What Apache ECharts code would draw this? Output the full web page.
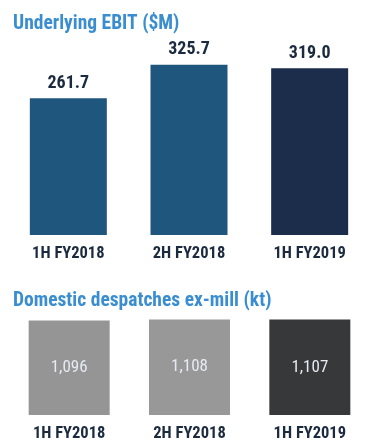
<!DOCTYPE html>
<html><head><meta charset="utf-8">
<script src="https://cdn.jsdelivr.net/npm/echarts@6/dist/echarts.min.js"></script>
<style>html,body{margin:0;padding:0;background:#fff}#c{width:370px;height:446px}</style>
</head><body><div id="c"></div>
<script>
const categories = ['1H FY2018', '2H FY2018', '1H FY2019'];
const ebitValues = [261.7, 325.7, 319.0];
const despatchValues = [1096, 1108, 1107];
const ebitTitle = 'Underlying EBIT ($M)';
const despatchTitle = 'Domestic despatches ex-mill (kt)';

const FONT = 'Roboto, sans-serif';
const STRETCH = 'condensed';
const ebitColors = ['#1f567e', '#1f567e', '#1b2d4b'];
const despColors = ['#959595', '#989898', '#363839'];

const chart = echarts.init(document.getElementById('c'));
chart.setOption({
  animation: false,
  title: [
    {text: ebitTitle, left: 8, top: 9, textStyle: {fontFamily: FONT, fontStyle: STRETCH, fontWeight: 'bold', fontSize: 19.5, color: '#3a8ed0'}},
    {text: despatchTitle, left: 8, top: 286, textStyle: {fontFamily: FONT, fontStyle: STRETCH, fontWeight: 'bold', fontSize: 19.5, color: '#3a8ed0'}}
  ],
  grid: [
    {left: 8, right: -3, top: 26, bottom: 211},
    {left: 9, right: -2, top: 311.5, bottom: 31}
  ],
  xAxis: [0, 1].map(i => ({
    type: 'category', gridIndex: i, data: categories,
    axisLine: {show: false}, axisTick: {show: false},
    axisLabel: {interval: 0, margin: 10, fontFamily: FONT, fontStyle: STRETCH, fontWeight: 'bold', fontSize: 16.5, color: '#1b2a3f'}
  })),
  yAxis: [
    {type: 'value', gridIndex: 0, min: 0, max: 400, show: false},
    {type: 'value', gridIndex: 1, min: 0, max: 1200, show: false}
  ],
  series: [
    {
      type: 'bar', xAxisIndex: 0, yAxisIndex: 0, barWidth: 77,
      data: ebitValues.map((v, i) => ({value: v, itemStyle: {color: ebitColors[i]}})),
      label: {show: true, position: 'top', distance: 6, formatter: p => p.value.toFixed(1),
        fontFamily: FONT, fontStyle: STRETCH, fontWeight: 'bold', fontSize: 18, color: '#1b2a3f'}
    },
    {
      type: 'bar', xAxisIndex: 1, yAxisIndex: 1, barWidth: 81,
      data: despatchValues.map((v, i) => ({value: v, itemStyle: {color: despColors[i]}})),
      label: {show: true, position: 'inside', formatter: p => p.value.toLocaleString('en-US'),
        fontFamily: FONT, fontStyle: STRETCH, fontWeight: 'normal', fontSize: 17, color: '#e6eaf2'}
    }
  ]
});
</script></body></html>
